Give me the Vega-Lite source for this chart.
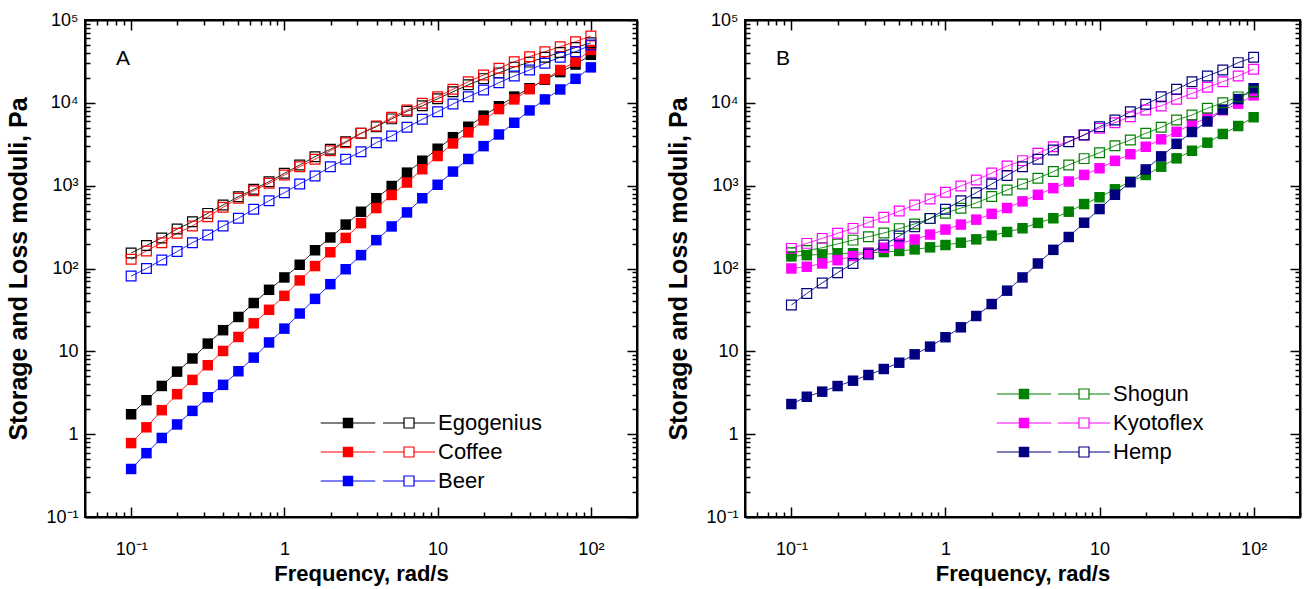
{
  "$schema": "https://vega.github.io/schema/vega-lite/v6.json",
  "padding": {"left": 5, "top": 10, "right": 2, "bottom": 2},
  "spacing": 26,
  "datasets": {
    "A1": [
      {"f": 0.1, "Egogenius": 1.74, "Coffee": 0.78, "Beer": 0.38},
      {"f": 0.1259, "Egogenius": 2.57, "Coffee": 1.21, "Beer": 0.59},
      {"f": 0.1585, "Egogenius": 3.82, "Coffee": 1.95, "Beer": 0.9},
      {"f": 0.1995, "Egogenius": 5.69, "Coffee": 3.04, "Beer": 1.31},
      {"f": 0.2512, "Egogenius": 8.2, "Coffee": 4.52, "Beer": 1.91},
      {"f": 0.3162, "Egogenius": 12.4, "Coffee": 6.8, "Beer": 2.79},
      {"f": 0.3981, "Egogenius": 18.0, "Coffee": 10.1, "Beer": 3.94},
      {"f": 0.5012, "Egogenius": 26.0, "Coffee": 14.9, "Beer": 5.75},
      {"f": 0.631, "Egogenius": 38.3, "Coffee": 21.8, "Beer": 8.4},
      {"f": 0.7943, "Egogenius": 55.3, "Coffee": 31.7, "Beer": 12.8},
      {"f": 1, "Egogenius": 78, "Coffee": 46.8, "Beer": 18.8},
      {"f": 1.259, "Egogenius": 111, "Coffee": 71.8, "Beer": 28.6},
      {"f": 1.585, "Egogenius": 166, "Coffee": 107, "Beer": 43},
      {"f": 1.995, "Egogenius": 237, "Coffee": 157, "Beer": 64.7},
      {"f": 2.512, "Egogenius": 339, "Coffee": 234, "Beer": 98},
      {"f": 3.162, "Egogenius": 484, "Coffee": 353, "Beer": 145},
      {"f": 3.981, "Egogenius": 705, "Coffee": 537, "Beer": 220},
      {"f": 5.012, "Egogenius": 990, "Coffee": 772, "Beer": 322},
      {"f": 6.31, "Egogenius": 1436, "Coffee": 1090, "Beer": 475},
      {"f": 7.943, "Egogenius": 2000, "Coffee": 1580, "Beer": 705},
      {"f": 10, "Egogenius": 2790, "Coffee": 2280, "Beer": 1025},
      {"f": 12.59, "Egogenius": 3847, "Coffee": 3230, "Beer": 1480},
      {"f": 15.85, "Egogenius": 5150, "Coffee": 4400, "Beer": 2100},
      {"f": 19.95, "Egogenius": 7000, "Coffee": 6150, "Beer": 3000},
      {"f": 25.12, "Egogenius": 9100, "Coffee": 8400, "Beer": 4150},
      {"f": 31.62, "Egogenius": 11900, "Coffee": 11000, "Beer": 5750},
      {"f": 39.81, "Egogenius": 15000, "Coffee": 14600, "Beer": 8100},
      {"f": 50.12, "Egogenius": 19000, "Coffee": 19300, "Beer": 11000},
      {"f": 63.1, "Egogenius": 23500, "Coffee": 24900, "Beer": 14500},
      {"f": 79.43, "Egogenius": 29000, "Coffee": 31400, "Beer": 19500},
      {"f": 100, "Egogenius": 38000, "Coffee": 43500, "Beer": 26800}
    ],
    "A2": [
      {"f": 0.1, "Egogenius": 154, "Coffee": 129, "Beer": 81},
      {"f": 0.1259, "Egogenius": 190, "Coffee": 163, "Beer": 100},
      {"f": 0.1585, "Egogenius": 234, "Coffee": 205, "Beer": 127},
      {"f": 0.1995, "Egogenius": 300, "Coffee": 266, "Beer": 160},
      {"f": 0.2512, "Egogenius": 367, "Coffee": 326, "Beer": 205},
      {"f": 0.3162, "Egogenius": 463, "Coffee": 422, "Beer": 254},
      {"f": 0.3981, "Egogenius": 584, "Coffee": 548, "Beer": 326},
      {"f": 0.5012, "Egogenius": 736, "Coffee": 703, "Beer": 404},
      {"f": 0.631, "Egogenius": 903, "Coffee": 869, "Beer": 518},
      {"f": 0.7943, "Egogenius": 1117, "Coffee": 1067, "Beer": 658},
      {"f": 1, "Egogenius": 1409, "Coffee": 1345, "Beer": 822},
      {"f": 1.259, "Egogenius": 1775, "Coffee": 1695, "Beer": 1050},
      {"f": 1.585, "Egogenius": 2237, "Coffee": 2080, "Beer": 1310},
      {"f": 1.995, "Egogenius": 2748, "Coffee": 2640, "Beer": 1694},
      {"f": 2.512, "Egogenius": 3393, "Coffee": 3300, "Beer": 2080},
      {"f": 3.162, "Egogenius": 4285, "Coffee": 4285, "Beer": 2570},
      {"f": 3.981, "Egogenius": 5150, "Coffee": 5250, "Beer": 3300},
      {"f": 5.012, "Egogenius": 6400, "Coffee": 6680, "Beer": 3980},
      {"f": 6.31, "Egogenius": 7900, "Coffee": 8200, "Beer": 5060},
      {"f": 7.943, "Egogenius": 9200, "Coffee": 9900, "Beer": 6320},
      {"f": 10, "Egogenius": 11200, "Coffee": 11860, "Beer": 7820},
      {"f": 12.59, "Egogenius": 13600, "Coffee": 14550, "Beer": 9680},
      {"f": 15.85, "Egogenius": 16500, "Coffee": 17980, "Beer": 11860},
      {"f": 19.95, "Egogenius": 19600, "Coffee": 21680, "Beer": 14280},
      {"f": 25.12, "Egogenius": 23000, "Coffee": 26100, "Beer": 17500},
      {"f": 31.62, "Egogenius": 27000, "Coffee": 31400, "Beer": 21100},
      {"f": 39.81, "Egogenius": 31000, "Coffee": 36100, "Beer": 24900},
      {"f": 50.12, "Egogenius": 35500, "Coffee": 41400, "Beer": 30000},
      {"f": 63.1, "Egogenius": 40500, "Coffee": 47600, "Beer": 35500},
      {"f": 79.43, "Egogenius": 46500, "Coffee": 54700, "Beer": 41400},
      {"f": 100, "Egogenius": 53000, "Coffee": 64100, "Beer": 49900}
    ],
    "B1": [
      {"f": 0.1, "Shogun": 140, "Kyotoflex": 100, "Hemp": 2.31},
      {"f": 0.1259, "Shogun": 145, "Kyotoflex": 105, "Hemp": 2.83},
      {"f": 0.1585, "Shogun": 148, "Kyotoflex": 115, "Hemp": 3.26},
      {"f": 0.1995, "Shogun": 152, "Kyotoflex": 126, "Hemp": 3.81},
      {"f": 0.2512, "Shogun": 153, "Kyotoflex": 141, "Hemp": 4.42},
      {"f": 0.3162, "Shogun": 155, "Kyotoflex": 155, "Hemp": 5.18},
      {"f": 0.3981, "Shogun": 158, "Kyotoflex": 178, "Hemp": 6.12},
      {"f": 0.5012, "Shogun": 163, "Kyotoflex": 200, "Hemp": 7.29},
      {"f": 0.631, "Shogun": 170, "Kyotoflex": 224, "Hemp": 9.2},
      {"f": 0.7943, "Shogun": 180, "Kyotoflex": 257, "Hemp": 11.4},
      {"f": 1, "Shogun": 192, "Kyotoflex": 295, "Hemp": 14.8},
      {"f": 1.259, "Shogun": 205, "Kyotoflex": 339, "Hemp": 19.5},
      {"f": 1.585, "Shogun": 225, "Kyotoflex": 389, "Hemp": 26.7},
      {"f": 1.995, "Shogun": 250, "Kyotoflex": 457, "Hemp": 37.2},
      {"f": 2.512, "Shogun": 276, "Kyotoflex": 537, "Hemp": 54},
      {"f": 3.162, "Shogun": 306, "Kyotoflex": 646, "Hemp": 78},
      {"f": 3.981, "Shogun": 355, "Kyotoflex": 776, "Hemp": 115},
      {"f": 5.012, "Shogun": 404, "Kyotoflex": 933, "Hemp": 168},
      {"f": 6.31, "Shogun": 485, "Kyotoflex": 1122, "Hemp": 240},
      {"f": 7.943, "Shogun": 600, "Kyotoflex": 1349, "Hemp": 357},
      {"f": 10, "Shogun": 725, "Kyotoflex": 1622, "Hemp": 522},
      {"f": 12.59, "Shogun": 904, "Kyotoflex": 1995, "Hemp": 777},
      {"f": 15.85, "Shogun": 1117, "Kyotoflex": 2399, "Hemp": 1100},
      {"f": 19.95, "Shogun": 1346, "Kyotoflex": 2951, "Hemp": 1570},
      {"f": 25.12, "Shogun": 1694, "Kyotoflex": 3631, "Hemp": 2260},
      {"f": 31.62, "Shogun": 2138, "Kyotoflex": 4467, "Hemp": 3200},
      {"f": 39.81, "Shogun": 2640, "Kyotoflex": 5495, "Hemp": 4450},
      {"f": 50.12, "Shogun": 3305, "Kyotoflex": 6607, "Hemp": 5950},
      {"f": 63.1, "Shogun": 4210, "Kyotoflex": 8128, "Hemp": 8300},
      {"f": 79.43, "Shogun": 5250, "Kyotoflex": 9772, "Hemp": 11100},
      {"f": 100, "Shogun": 6700, "Kyotoflex": 12300, "Hemp": 15000}
    ],
    "B2": [
      {"f": 0.1, "Shogun": 155, "Kyotoflex": 175, "Hemp": 36.2},
      {"f": 0.1259, "Shogun": 165, "Kyotoflex": 201, "Hemp": 50},
      {"f": 0.1585, "Shogun": 178, "Kyotoflex": 231, "Hemp": 67},
      {"f": 0.1995, "Shogun": 198, "Kyotoflex": 266, "Hemp": 89},
      {"f": 0.2512, "Shogun": 220, "Kyotoflex": 305, "Hemp": 115},
      {"f": 0.3162, "Shogun": 242, "Kyotoflex": 361, "Hemp": 150},
      {"f": 0.3981, "Shogun": 268, "Kyotoflex": 415, "Hemp": 192},
      {"f": 0.5012, "Shogun": 303, "Kyotoflex": 494, "Hemp": 247},
      {"f": 0.631, "Shogun": 345, "Kyotoflex": 585, "Hemp": 320},
      {"f": 0.7943, "Shogun": 400, "Kyotoflex": 690, "Hemp": 403},
      {"f": 1, "Shogun": 465, "Kyotoflex": 832, "Hemp": 518},
      {"f": 1.259, "Shogun": 535, "Kyotoflex": 991, "Hemp": 658},
      {"f": 1.585, "Shogun": 620, "Kyotoflex": 1170, "Hemp": 822},
      {"f": 1.995, "Shogun": 740, "Kyotoflex": 1420, "Hemp": 1047},
      {"f": 2.512, "Shogun": 887, "Kyotoflex": 1727, "Hemp": 1330},
      {"f": 3.162, "Shogun": 1048, "Kyotoflex": 2006, "Hemp": 1695},
      {"f": 3.981, "Shogun": 1227, "Kyotoflex": 2460, "Hemp": 2080},
      {"f": 5.012, "Shogun": 1480, "Kyotoflex": 2958, "Hemp": 2696},
      {"f": 6.31, "Shogun": 1780, "Kyotoflex": 3400, "Hemp": 3395},
      {"f": 7.943, "Shogun": 2120, "Kyotoflex": 4100, "Hemp": 4090},
      {"f": 10, "Shogun": 2500, "Kyotoflex": 4920, "Hemp": 5155},
      {"f": 12.59, "Shogun": 3040, "Kyotoflex": 5760, "Hemp": 6210},
      {"f": 15.85, "Shogun": 3560, "Kyotoflex": 6800, "Hemp": 7800},
      {"f": 19.95, "Shogun": 4285, "Kyotoflex": 8180, "Hemp": 9600},
      {"f": 25.12, "Shogun": 5060, "Kyotoflex": 9170, "Hemp": 11860},
      {"f": 31.62, "Shogun": 6210, "Kyotoflex": 11040, "Hemp": 14560},
      {"f": 39.81, "Shogun": 7130, "Kyotoflex": 13000, "Hemp": 17980},
      {"f": 50.12, "Shogun": 8590, "Kyotoflex": 15400, "Hemp": 21100},
      {"f": 63.1, "Shogun": 10000, "Kyotoflex": 18000, "Hemp": 24900},
      {"f": 79.43, "Shogun": 11800, "Kyotoflex": 21100, "Hemp": 30600},
      {"f": 100, "Shogun": 13600, "Kyotoflex": 25400, "Hemp": 35500}
    ]
  },
  "hconcat": [
    {
      "width": 552,
      "height": 497,
      "title": {"text": "A", "anchor": "start", "frame": "group", "dx": 31, "dy": 62, "fontSize": 21, "fontWeight": "normal", "font": "Liberation Sans", "color": "#000"},
      "layer": [
        {
          "data": {"name": "A1"},
          "transform": [{"fold": ["Egogenius", "Coffee", "Beer"], "as": ["sample", "G"]}],
          "mark": {"type": "line", "strokeWidth": 1, "opacity": 0.85},
          "encoding": {
            "x": {"field": "f", "type": "quantitative", "scale": {"type": "log", "domain": [0.05, 200], "nice": false},
              "axis": {"orient": "bottom", "values": [0.05,0.06,0.07,0.08,0.09,0.1,0.2,0.3,0.4,0.5,0.6,0.7,0.8,0.9,1,2,3,4,5,6,7,8,9,10,20,30,40,50,60,70,80,90,100,200],
                "tickSize": {"condition": {"test": "indexof([0.1,1,10,100], datum.value) >= 0", "value": -10}, "value": -5},
                "labelExpr": "datum.value == 0.1 ? '10⁻¹' : datum.value == 1 ? '1' : datum.value == 10 ? '10' : datum.value == 100 ? '10²' : ''",
                "labelPadding": 33, "title": "Frequency, rad/s", "titlePadding": 0, "titleFontSize": 22}},
            "y": {"field": "G", "type": "quantitative", "scale": {"type": "log", "domain": [0.1, 100000], "nice": false},
              "axis": {"orient": "left", "values": [0.1,0.2,0.3,0.4,0.5,0.6,0.7,0.8,0.9,1,2,3,4,5,6,7,8,9,10,20,30,40,50,60,70,80,90,100,200,300,400,500,600,700,800,900,1000,2000,3000,4000,5000,6000,7000,8000,9000,10000,20000,30000,40000,50000,60000,70000,80000,90000,100000],
                "tickSize": {"condition": {"test": "indexof([0.1,1,10,100,1000,10000,100000], datum.value) >= 0", "value": -10}, "value": -5},
                "labelExpr": "datum.value == 100000 ? '10⁵' : datum.value == 10000 ? '10⁴' : datum.value == 1000 ? '10³' : datum.value == 100 ? '10²' : datum.value == 10 ? '10' : datum.value == 1 ? '1' : datum.value == 0.1 ? '10⁻¹' : ''",
                "labelPadding": 17, "title": "Storage and Loss moduli, Pa", "titlePadding": 14, "titleFontSize": 25}},
            "color": {"field": "sample", "type": "nominal", "scale": {"domain": ["Egogenius", "Coffee", "Beer"], "range": ["#000000", "#ff0000", "#0000ff"]}, "legend": null}
          }
        },
        {
          "data": {"name": "A2"},
          "transform": [{"fold": ["Egogenius", "Coffee", "Beer"], "as": ["sample", "G"]}],
          "mark": {"type": "line", "strokeWidth": 1, "opacity": 0.85},
          "encoding": {
            "x": {"field": "f", "type": "quantitative",
              "axis": {"orient": "top", "values": [0.05,0.06,0.07,0.08,0.09,0.1,0.2,0.3,0.4,0.5,0.6,0.7,0.8,0.9,1,2,3,4,5,6,7,8,9,10,20,30,40,50,60,70,80,90,100,200], "labels": false, "title": null,
                "tickSize": {"condition": {"test": "indexof([0.1,1,10,100], datum.value) >= 0", "value": -10}, "value": -5}}},
            "y": {"field": "G", "type": "quantitative",
              "axis": {"orient": "right", "values": [0.1,0.2,0.3,0.4,0.5,0.6,0.7,0.8,0.9,1,2,3,4,5,6,7,8,9,10,20,30,40,50,60,70,80,90,100,200,300,400,500,600,700,800,900,1000,2000,3000,4000,5000,6000,7000,8000,9000,10000,20000,30000,40000,50000,60000,70000,80000,90000,100000], "labels": false, "title": null,
                "tickSize": {"condition": {"test": "indexof([0.1,1,10,100,1000,10000,100000], datum.value) >= 0", "value": -10}, "value": -5}}},
            "color": {"field": "sample", "type": "nominal", "legend": null}
          }
        },
        {
          "data": {"name": "A1"},
          "transform": [{"fold": ["Egogenius", "Coffee", "Beer"], "as": ["sample", "G"]}],
          "mark": {"type": "point", "shape": "square", "filled": true, "size": 110, "opacity": 1},
          "encoding": {
            "x": {"field": "f", "type": "quantitative", "axis": null},
            "y": {"field": "G", "type": "quantitative", "axis": null},
            "fill": {"field": "sample", "type": "nominal", "sort": ["Egogenius", "Coffee", "Beer"], "scale": {"range": ["#000000", "#ff0000", "#0000ff"]},
              "legend": {"title": null, "orient": "none", "legendX": 252, "legendY": 392, "padding": 0, "zindex": 2,
                "symbolType": "M-5.2,-0.1H-1V0.1H-5.2ZM1,-0.1H5.2V0.1H1ZM-1,-1H1V1H-1Z", "symbolSize": 110,
                "labelFontSize": 22, "labelFont": "Liberation Sans", "labelExpr": "''", "labelOffset": 18, "rowPadding": 7}}
          }
        },
        {
          "data": {"name": "A2"},
          "transform": [{"fold": ["Egogenius", "Coffee", "Beer"], "as": ["sample", "G"]}],
          "mark": {"type": "point", "shape": "square", "filled": false, "size": 95, "opacity": 1, "strokeWidth": 1.2},
          "encoding": {
            "x": {"field": "f", "type": "quantitative", "axis": null},
            "y": {"field": "G", "type": "quantitative", "axis": null},
            "stroke": {"field": "sample", "type": "nominal", "sort": ["Egogenius", "Coffee", "Beer"], "scale": {"range": ["#000000", "#ff0000", "#0000ff"]},
              "legend": {"title": null, "orient": "none", "legendX": 313, "legendY": 392, "padding": 0, "zindex": 2,
                "symbolType": "M-5.2,0H-1M1,0H5.2M-1,-1H1V1H-1Z", "symbolSize": 100, "symbolStrokeWidth": 1.2,
                "labelFontSize": 22, "labelFont": "Liberation Sans", "labelColor": "#000", "labelOffset": 18, "rowPadding": 7}}
          }
        }
      ],
      "resolve": {"axis": {"x": "independent", "y": "independent"}}
    },
    {
      "width": 555,
      "height": 497,
      "title": {"text": "B", "anchor": "start", "frame": "group", "dx": 31, "dy": 62, "fontSize": 21, "fontWeight": "normal", "font": "Liberation Sans", "color": "#000"},
      "layer": [
        {
          "data": {"name": "B1"},
          "transform": [{"fold": ["Shogun", "Kyotoflex", "Hemp"], "as": ["sample", "G"]}],
          "mark": {"type": "line", "strokeWidth": 1, "opacity": 0.85},
          "encoding": {
            "x": {"field": "f", "type": "quantitative", "scale": {"type": "log", "domain": [0.05, 200], "nice": false},
              "axis": {"orient": "bottom", "values": [0.05,0.06,0.07,0.08,0.09,0.1,0.2,0.3,0.4,0.5,0.6,0.7,0.8,0.9,1,2,3,4,5,6,7,8,9,10,20,30,40,50,60,70,80,90,100,200],
                "tickSize": {"condition": {"test": "indexof([0.1,1,10,100], datum.value) >= 0", "value": -10}, "value": -5},
                "labelExpr": "datum.value == 0.1 ? '10⁻¹' : datum.value == 1 ? '1' : datum.value == 10 ? '10' : datum.value == 100 ? '10²' : ''",
                "labelPadding": 33, "title": "Frequency, rad/s", "titlePadding": 0, "titleFontSize": 22}},
            "y": {"field": "G", "type": "quantitative", "scale": {"type": "log", "domain": [0.1, 100000], "nice": false},
              "axis": {"orient": "left", "values": [0.1,0.2,0.3,0.4,0.5,0.6,0.7,0.8,0.9,1,2,3,4,5,6,7,8,9,10,20,30,40,50,60,70,80,90,100,200,300,400,500,600,700,800,900,1000,2000,3000,4000,5000,6000,7000,8000,9000,10000,20000,30000,40000,50000,60000,70000,80000,90000,100000],
                "tickSize": {"condition": {"test": "indexof([0.1,1,10,100,1000,10000,100000], datum.value) >= 0", "value": -10}, "value": -5},
                "labelExpr": "datum.value == 100000 ? '10⁵' : datum.value == 10000 ? '10⁴' : datum.value == 1000 ? '10³' : datum.value == 100 ? '10²' : datum.value == 10 ? '10' : datum.value == 1 ? '1' : datum.value == 0.1 ? '10⁻¹' : ''",
                "labelPadding": 17, "title": "Storage and Loss moduli, Pa", "titlePadding": 14, "titleFontSize": 25}},
            "color": {"field": "sample", "type": "nominal", "scale": {"domain": ["Shogun", "Kyotoflex", "Hemp"], "range": ["#008000", "#ff00ff", "#000080"]}, "legend": null}
          }
        },
        {
          "data": {"name": "B2"},
          "transform": [{"fold": ["Shogun", "Kyotoflex", "Hemp"], "as": ["sample", "G"]}],
          "mark": {"type": "line", "strokeWidth": 1, "opacity": 0.85},
          "encoding": {
            "x": {"field": "f", "type": "quantitative",
              "axis": {"orient": "top", "values": [0.05,0.06,0.07,0.08,0.09,0.1,0.2,0.3,0.4,0.5,0.6,0.7,0.8,0.9,1,2,3,4,5,6,7,8,9,10,20,30,40,50,60,70,80,90,100,200], "labels": false, "title": null,
                "tickSize": {"condition": {"test": "indexof([0.1,1,10,100], datum.value) >= 0", "value": -10}, "value": -5}}},
            "y": {"field": "G", "type": "quantitative",
              "axis": {"orient": "right", "values": [0.1,0.2,0.3,0.4,0.5,0.6,0.7,0.8,0.9,1,2,3,4,5,6,7,8,9,10,20,30,40,50,60,70,80,90,100,200,300,400,500,600,700,800,900,1000,2000,3000,4000,5000,6000,7000,8000,9000,10000,20000,30000,40000,50000,60000,70000,80000,90000,100000], "labels": false, "title": null,
                "tickSize": {"condition": {"test": "indexof([0.1,1,10,100,1000,10000,100000], datum.value) >= 0", "value": -10}, "value": -5}}},
            "color": {"field": "sample", "type": "nominal", "legend": null}
          }
        },
        {
          "data": {"name": "B1"},
          "transform": [{"fold": ["Shogun", "Kyotoflex", "Hemp"], "as": ["sample", "G"]}],
          "mark": {"type": "point", "shape": "square", "filled": true, "size": 110, "opacity": 1},
          "encoding": {
            "x": {"field": "f", "type": "quantitative", "axis": null},
            "y": {"field": "G", "type": "quantitative", "axis": null},
            "fill": {"field": "sample", "type": "nominal", "sort": ["Shogun", "Kyotoflex", "Hemp"], "scale": {"range": ["#008000", "#ff00ff", "#000080"]},
              "legend": {"title": null, "orient": "none", "legendX": 268, "legendY": 363, "padding": 0, "zindex": 2,
                "symbolType": "M-5.2,-0.1H-1V0.1H-5.2ZM1,-0.1H5.2V0.1H1ZM-1,-1H1V1H-1Z", "symbolSize": 110,
                "labelFontSize": 22, "labelFont": "Liberation Sans", "labelExpr": "''", "labelOffset": 18, "rowPadding": 7}}
          }
        },
        {
          "data": {"name": "B2"},
          "transform": [{"fold": ["Shogun", "Kyotoflex", "Hemp"], "as": ["sample", "G"]}],
          "mark": {"type": "point", "shape": "square", "filled": false, "size": 95, "opacity": 1, "strokeWidth": 1.2},
          "encoding": {
            "x": {"field": "f", "type": "quantitative", "axis": null},
            "y": {"field": "G", "type": "quantitative", "axis": null},
            "stroke": {"field": "sample", "type": "nominal", "sort": ["Shogun", "Kyotoflex", "Hemp"], "scale": {"range": ["#008000", "#ff00ff", "#000080"]},
              "legend": {"title": null, "orient": "none", "legendX": 328, "legendY": 363, "padding": 0, "zindex": 2,
                "symbolType": "M-5.2,0H-1M1,0H5.2M-1,-1H1V1H-1Z", "symbolSize": 100, "symbolStrokeWidth": 1.2,
                "labelFontSize": 22, "labelFont": "Liberation Sans", "labelColor": "#000", "labelOffset": 18, "rowPadding": 7}}
          }
        }
      ],
      "resolve": {"axis": {"x": "independent", "y": "independent"}}
    }
  ],
  "resolve": {"scale": {"color": "independent", "fill": "independent", "stroke": "independent"}, "legend": {"fill": "independent", "stroke": "independent"}},
  "config": {
    "font": "Liberation Sans",
    "view": {"stroke": "#000", "strokeWidth": 2},
    "axis": {"domain": true, "domainColor": "#000", "domainWidth": 2, "zindex": 1, "grid": false, "tickColor": "#000", "tickWidth": 1.5, "labelFont": "Liberation Sans", "labelFontSize": 18, "labelColor": "#000",
      "titleFont": "Liberation Sans", "titleFontWeight": "bold", "titleColor": "#000", "labelOverlap": false, "labelBound": false, "labelFlush": false},
    "legend": {"labelLimit": 300}
  }
}
